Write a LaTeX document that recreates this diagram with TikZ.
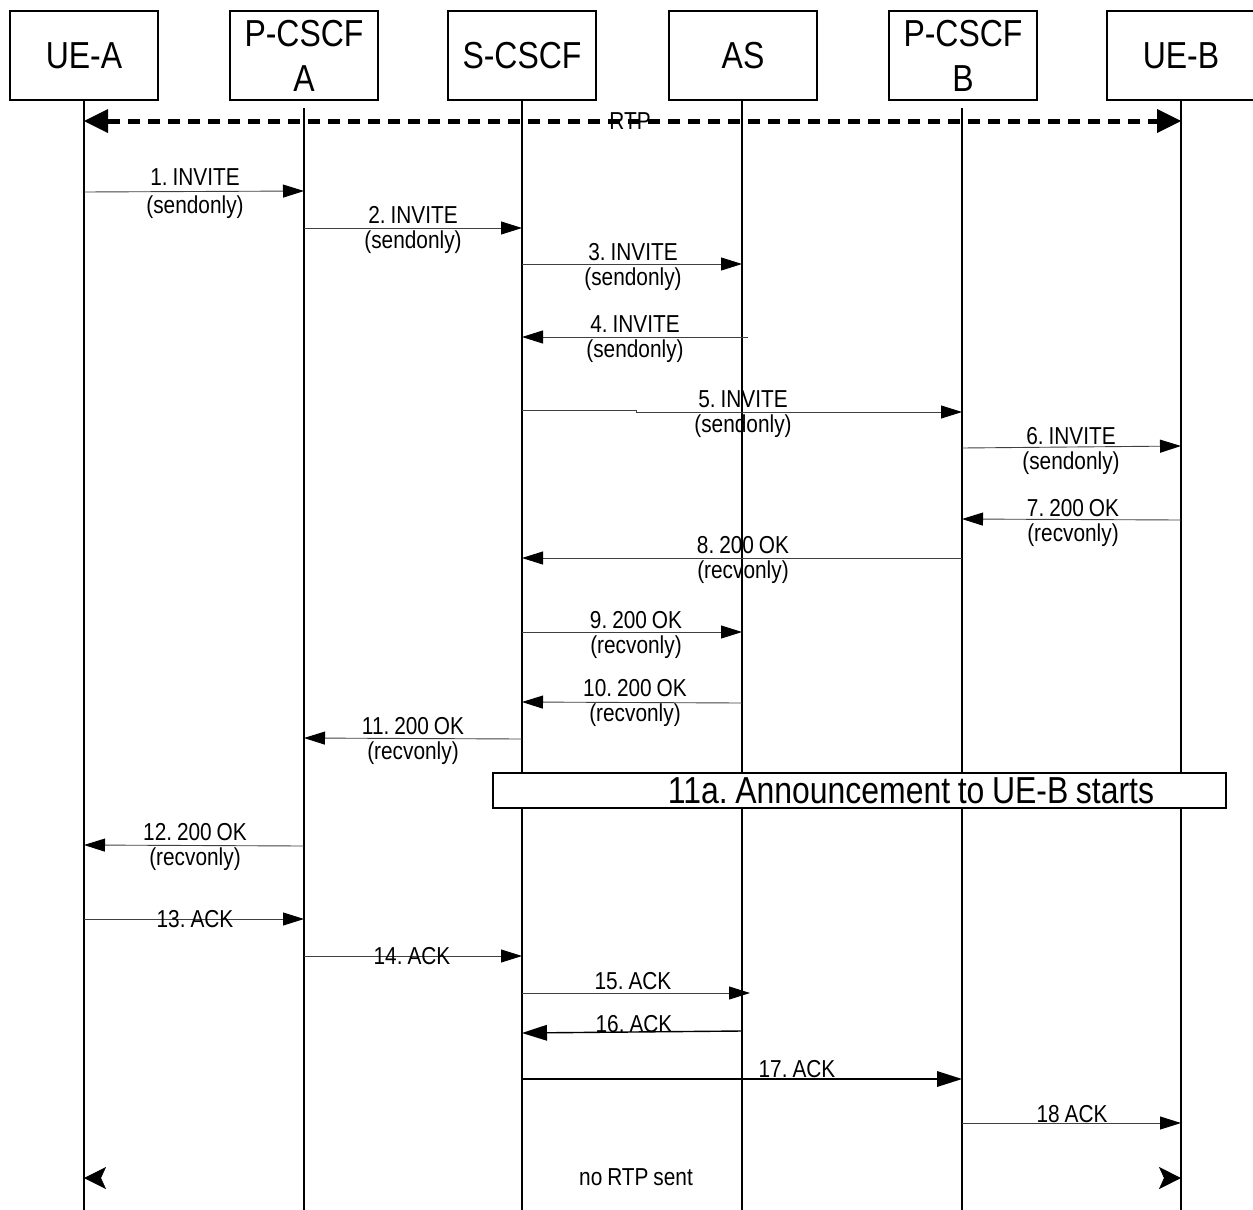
\documentclass[tikz,border=0pt]{standalone}
\usepackage{fontspec}
\setmainfont[FakeStretch=0.85,WordSpace=0.85]{Liberation Sans}
\usetikzlibrary{arrows.meta}
\frenchspacing
\newcommand{\hdfont}{\fontsize{37.6}{45}\selectfont}
\newcommand{\lbfont}{\fontsize{24.5}{25}\selectfont}
\begin{document}
\frenchspacing
\begin{tikzpicture}[x=1pt,y=-1pt,
  actor/.style={draw, line width=1.2pt, minimum width=148pt, minimum height=89pt, inner sep=0pt, font=\hdfont, align=center},
  life/.style={line width=1.4pt},
  msg/.style={line width=0.9pt, draw=black!75, -{Triangle[length=21pt,width=13pt,color=black]}},
  msgthick/.style={line width=1.8pt, draw=black, -{Triangle[length=25pt,width=16pt,line width=0pt,color=black]}},
  lbl/.style={font=\lbfont, inner sep=0pt, align=center},
  lbl2/.style={lbl, yshift=-2pt},
  rtpline/.style={line width=5pt, dash pattern=on 12pt off 8pt, {Triangle[length=24pt,width=24pt,line width=0pt]}-{Triangle[length=24pt,width=24pt,line width=0pt]}},
  stub/.style={draw=white, line width=0.5pt, -{Stealth[length=22pt,width=22pt,inset=5pt,color=black]}},
]
\useasboundingbox (0,0) rectangle (1253,1210);

% header boxes
\node[actor] (uea) at (84,55.5) {UE-A};
\node[actor] (pa)  at (304,55.5) {P-CSCF\\A};
\node[actor] (sc)  at (522,55.5) {S-CSCF};
\node[actor] (as)  at (743,55.5) {AS};
\node[actor] (pb)  at (963,55.5) {P-CSCF\\B};
\node[actor] (ueb) at (1181,55.5) {UE-B};

% lifeline ends
\coordinate (uea-e) at (84,1210);
\coordinate (pa-s)  at (304,108);
\coordinate (pa-e)  at (304,1210);
\coordinate (sc-e)  at (522,1210);
\coordinate (as-e)  at (742,1210);
\coordinate (pb-s)  at (962,108);
\coordinate (pb-e)  at (962,1210);
\coordinate (ueb-e) at (1181,1210);
\draw[life] (uea.south) -- (uea-e);
\draw[life] (pa-s) -- (pa-e);
\draw[life] (sc.south) -- (sc-e);
\draw[life] (as.south -| as-e) -- (as-e);
\draw[life] (pb-s) -- (pb-e);
\draw[life] (ueb.south) -- (ueb-e);

% RTP
\node[lbl] (rtp) at (630,121) {RTP};
\coordinate (rtpa) at (84,121);
\coordinate (rtpb) at (1181,121);
\draw[rtpline] (rtpa) -- (rtpb);

% messages
\coordinate (m1a) at (84,192);   \coordinate (m1b) at (304,191);
\coordinate (m2a) at (304,228);  \coordinate (m2b) at (522,228);
\coordinate (m3a) at (522,264);  \coordinate (m3b) at (742,264);
\coordinate (m4a) at (748,337);  \coordinate (m4b) at (522,337);
\coordinate (m5a) at (522,410);  \coordinate (m5k) at (636,410); \coordinate (m5l) at (636,412); \coordinate (m5b) at (962,412);
\coordinate (m6a) at (962,448);  \coordinate (m6b) at (1181,446);
\coordinate (m7a) at (1181,520); \coordinate (m7b) at (962,519);
\coordinate (m8a) at (962,558);  \coordinate (m8b) at (522,558);
\coordinate (m9a) at (522,632);  \coordinate (m9b) at (742,632);
\coordinate (m10a) at (742,703); \coordinate (m10b) at (522,702);
\coordinate (m11a) at (522,739); \coordinate (m11b) at (304,738);
\coordinate (m12a) at (304,846); \coordinate (m12b) at (84,845);
\coordinate (m13a) at (84,919);  \coordinate (m13b) at (304,919);
\coordinate (m14a) at (304,956); \coordinate (m14b) at (522,956);
\coordinate (m15a) at (522,993); \coordinate (m15b) at (750,993);
\coordinate (m16a) at (742,1031); \coordinate (m16b) at (522,1033);
\coordinate (m17a) at (522,1079); \coordinate (m17b) at (962,1079);
\coordinate (m18a) at (962,1123); \coordinate (m18b) at (1181,1123);

\draw[msg] (m1a) -- (m1b);
\draw[msg] (m2a) -- (m2b);
\draw[msg] (m3a) -- (m3b);
\draw[msg] (m4a) -- (m4b);
\draw[msg] (m5a) -- (m5k) -- (m5l) -- (m5b);
\draw[msg] (m6a) -- (m6b);
\draw[msg] (m7a) -- (m7b);
\draw[msg] (m8a) -- (m8b);
\draw[msg] (m9a) -- (m9b);
\draw[msg] (m10a) -- (m10b);
\draw[msg] (m11a) -- (m11b);
\draw[msg] (m12a) -- (m12b);
\draw[msg] (m13a) -- (m13b);
\draw[msg] (m14a) -- (m14b);
\draw[msg] (m15a) -- (m15b);
\draw[msgthick, line width=1.4pt] (m16a) -- (m16b);
\draw[msgthick] (m17a) -- (m17b);
\draw[msg] (m18a) -- (m18b);

% labels (two-line labels as one node each)
\node[lbl2, font=\fontsize{24.5}{28}\selectfont] (l1) at (195,192) {1. INVITE\\(sendonly)};
\node[lbl2] (l2) at (413,228) {2. INVITE\\(sendonly)};
\node[lbl2] (l3) at (633,264.5) {3. INVITE\\(sendonly)};
\node[lbl2] (l4) at (635,337.5) {4. INVITE\\(sendonly)};
\node[lbl2] (l5) at (743,412.5) {5. INVITE\\(sendonly)};
\node[lbl2] (l6) at (1071,448.5) {6. INVITE\\(sendonly)};
\node[lbl2] (l7) at (1073,520.5) {7. 200 OK\\(recvonly)};
\node[lbl2] (l8) at (743,558) {8. 200 OK\\(recvonly)};
\node[lbl2] (l9) at (636,632.5) {9. 200 OK\\(recvonly)};
\node[lbl2] (l10) at (635,701) {10. 200 OK\\(recvonly)};
\node[lbl2] (l11) at (413,738.5) {11. 200 OK\\(recvonly)};
\node[lbl2] (l12) at (195,844.5) {12. 200 OK\\(recvonly)};
\node[lbl] (l13) at (195,919) {13. ACK};
\node[lbl] (l14) at (412,956) {14. ACK};
\node[lbl] (l15) at (633,981) {15. ACK};
\node[lbl] (l16) at (634,1024) {16. ACK};
\node[lbl] (l17) at (797,1069) {17. ACK};
\node[lbl] (l18) at (1072,1114) {18 ACK};

% announcement box
\node[draw, fill=white, line width=1.2pt, minimum width=733pt, minimum height=35pt, inner sep=0pt] (ann) at (859.5,790.5) {};
\node[font=\hdfont, inner sep=0pt] (anntext) at (911,791) {11a. Announcement to UE-B starts};

% no RTP sent
\coordinate (nra) at (84,1178);  \coordinate (nras) at (112,1178);
\coordinate (nrb) at (1181,1178); \coordinate (nrbs) at (1153,1178);
\draw[stub] (nras) -- (nra);
\draw[stub] (nrbs) -- (nrb);
\node[lbl] (norpt) at (636,1177) {no RTP sent};
\end{tikzpicture}
\end{document}
